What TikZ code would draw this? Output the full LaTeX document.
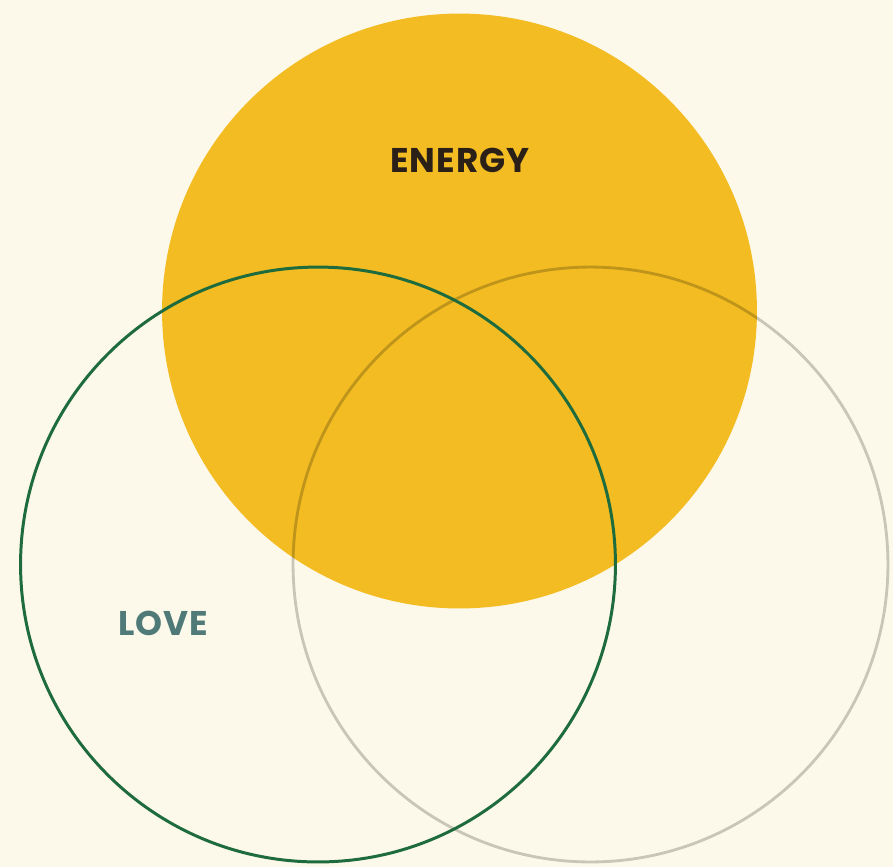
\documentclass[tikz,border=0pt]{standalone}
\usepackage{fontspec}
\setmainfont{Poppins}
\usetikzlibrary{positioning}
\definecolor{cream}{HTML}{FDF9EA}
\definecolor{sun}{HTML}{F2BC22}
\definecolor{ringgreen}{HTML}{1E6B3E}
\definecolor{ringgray}{HTML}{CACACA}
\definecolor{lovetext}{HTML}{4F7A78}
\definecolor{energytext}{HTML}{2A2018}

\begin{document}
\begin{tikzpicture}[x=0.02cm,y=-0.02cm,
  ring/.style={circle,inner sep=0pt,minimum size=11.9cm},
  venntext/.style={font=\bfseries\fontsize{19.5}{19.5}\selectfont\addfontfeatures{LetterSpace=3}}]
\fill[cream] (0,0) rectangle (893,867);
\useasboundingbox (0,0) rectangle (893,867);
\node[ring,fill=sun] (energy) at (459.5,311) {};
\node[ring,draw=ringgray,blend mode=multiply,line width=1.6pt] (other) at (590.5,564.5) {};
\node[ring,draw=ringgreen,line width=1.7pt] (love) at (318,564.5) {};
\node[venntext,text=energytext] (energylabel) at (460,160) {ENERGY};
\node[venntext,text=lovetext] (lovelabel) at (163,623) {LOVE};
\end{tikzpicture}
\end{document}
